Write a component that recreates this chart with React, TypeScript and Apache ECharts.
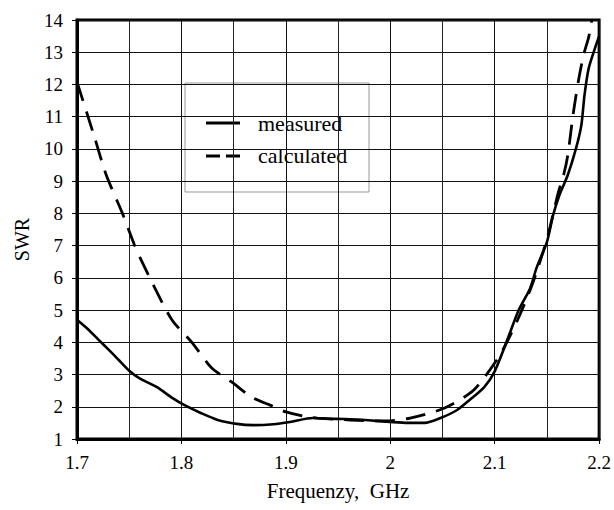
import React, { useEffect, useRef } from "react";
import * as echarts from "echarts";

const measuredX = [1.7, 1.71, 1.72, 1.73, 1.74, 1.75, 1.76, 1.777, 1.79, 1.803, 1.819, 1.834, 1.853, 1.869, 1.888, 1.904, 1.926, 1.94, 1.957, 1.979, 2.0, 2.017, 2.033, 2.048, 2.064, 2.076, 2.09, 2.1, 2.112, 2.123, 2.134, 2.14, 2.15, 2.156, 2.162, 2.17, 2.178, 2.183, 2.186, 2.19, 2.197, 2.2];
const measuredY = [4.7, 4.42, 4.1, 3.78, 3.45, 3.12, 2.88, 2.6, 2.3, 2.05, 1.8, 1.6, 1.47, 1.43, 1.46, 1.53, 1.65, 1.63, 1.62, 1.58, 1.53, 1.5, 1.5, 1.65, 1.9, 2.21, 2.61, 3.1, 4.07, 5.0, 5.68, 6.3, 7.11, 7.95, 8.57, 9.19, 10.03, 10.74, 11.67, 12.5, 13.22, 13.5];

const calcX = [1.7, 1.717, 1.728, 1.743, 1.755, 1.76, 1.774, 1.791, 1.81, 1.829, 1.848, 1.867, 1.885, 1.9, 1.92, 1.93, 1.962, 1.995, 2.019, 2.052, 2.08, 2.102, 2.11, 2.122, 2.136, 2.15, 2.161, 2.166, 2.17, 2.175, 2.18, 2.185, 2.19, 2.193];
const calcY = [12.08, 10.34, 9.19, 8.04, 7.02, 6.65, 5.72, 4.69, 4.0, 3.2, 2.77, 2.3, 2.05, 1.84, 1.69, 1.65, 1.59, 1.56, 1.65, 1.96, 2.52, 3.45, 3.9, 4.7, 5.8, 7.2, 8.66, 9.19, 9.81, 11.05, 12.08, 12.9, 13.47, 14];

const seriesNames = ["measured", "calculated"];
const xTitle = "Frequenzy,  GHz";
const yTitle = "SWR";

const FONT = "Liberation Serif";

export default function App() {
  const ref = useRef<HTMLDivElement>(null);
  useEffect(() => {
    if (!ref.current) return;
    const chart = echarts.init(ref.current, undefined, { renderer: "svg" });
    chart.setOption({
      animation: false,
      backgroundColor: "#fff",
      grid: {
        left: 77,
        top: 20,
        right: 11,
        bottom: 71,
        show: true,
        borderColor: "#000",
        borderWidth: 3,
        backgroundColor: "transparent",
      },
      graphic: [
        {
          type: "group",
          z: 10,
          children: [
            {
              type: "rect",
              shape: { x: 185, y: 83, width: 184, height: 109 },
              style: { fill: "#fff", stroke: "#999", lineWidth: 1 },
            },
            {
              type: "line",
              shape: { x1: 206, y1: 123, x2: 240, y2: 123 },
              style: { stroke: "#000", lineWidth: 3 },
            },
            {
              type: "line",
              shape: { x1: 206, y1: 156, x2: 240, y2: 156 },
              style: { stroke: "#000", lineWidth: 3, lineDash: [14, 6] },
            },
            {
              type: "text",
              x: 258,
              y: 123,
              style: {
                text: seriesNames[0],
                font: "22px " + FONT,
                fill: "#000",
                verticalAlign: "middle",
                align: "left",
              },
            },
            {
              type: "text",
              x: 258,
              y: 155,
              style: {
                text: seriesNames[1],
                font: "22px " + FONT,
                fill: "#000",
                verticalAlign: "middle",
                align: "left",
              },
            },
          ],
        },
      ],
      xAxis: {
        type: "value",
        min: 1.7,
        max: 2.2,
        interval: 0.1,
        name: xTitle,
        nameLocation: "middle",
        nameGap: 41,
        nameTextStyle: { fontFamily: FONT, fontSize: 21, color: "#000" },
        axisLine: { show: true, onZero: false, lineStyle: { color: "#000", width: 3 } },
        axisTick: { show: true, length: 5, inside: false, lineStyle: { color: "#000" } },
        axisLabel: {
          fontFamily: FONT,
          fontSize: 19,
          color: "#000",
          margin: 14,
          formatter: (v: number) => String(Math.round(v * 10) / 10),
        },
        splitLine: { show: true, lineStyle: { color: "#111", width: 1 } },
        minorTick: { show: false, splitNumber: 2 },
        minorSplitLine: { show: true, lineStyle: { color: "#222", width: 1 } },
      },
      yAxis: {
        type: "value",
        min: 1,
        max: 14,
        interval: 1,
        name: yTitle,
        nameLocation: "middle",
        nameGap: 45,
        nameTextStyle: { fontFamily: FONT, fontSize: 20, color: "#000", padding: [0, 20, 0, 0] },
        axisLine: { show: true, onZero: false, lineStyle: { color: "#000", width: 3 } },
        axisTick: { show: true, length: 5, lineStyle: { color: "#000" } },
        axisLabel: { fontFamily: FONT, fontSize: 19, color: "#000", margin: 14 },
        splitLine: { show: true, lineStyle: { color: "#111", width: 1 } },
      },
      series: [
        {
          name: seriesNames[0],
          type: "line",
          symbol: "none",
          smooth: 0.25,
          z: 5,
          data: measuredX.map((x, i) => [x, measuredY[i]]),
          lineStyle: { color: "#000", width: 2.6, type: "solid" },
          itemStyle: { color: "#000" },
        },
        {
          name: seriesNames[1],
          type: "line",
          symbol: "none",
          smooth: 0.25,
          z: 5,
          data: calcX.map((x, i) => [x, calcY[i]]),
          lineStyle: { color: "#000", width: 2.8, type: [20, 11] },
          itemStyle: { color: "#000" },
        },
      ],
    });
    return () => chart.dispose();
  }, []);
  return (
    <div
      ref={ref}
      style={{ position: "fixed", left: 0, top: 0, width: 614, height: 510, background: "#fff" }}
    />
  );
}
